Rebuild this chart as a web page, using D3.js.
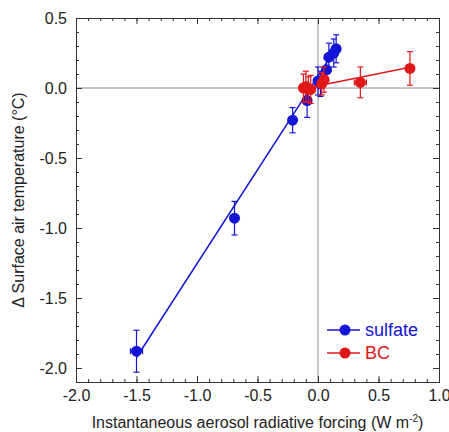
<!DOCTYPE html>
<html>
<head>
<meta charset="utf-8">
<script src="https://cdn.jsdelivr.net/npm/d3@7"></script>
<style>
  body { margin: 0; background: #fff; }
  text { font-family: "Liberation Sans", Arial, Helvetica, sans-serif; }
</style>
</head>
<body>
<svg id="chart" width="449" height="432"></svg>
<script>
// sulfate runs
var sulfateX    = [-1.50, -0.69, -0.21, -0.09, 0.00, 0.02, 0.07, 0.09, 0.13, 0.15];
var sulfateY    = [-1.88, -0.93, -0.23, -0.09, 0.05, 0.03, 0.13, 0.22, 0.25, 0.28];
var sulfateXErr = [0.05, 0.01, 0.01, 0.01, 0.01, 0.01, 0.01, 0.01, 0.01, 0.01];
var sulfateYErr = [0.15, 0.12, 0.09, 0.12, 0.10, 0.09, 0.08, 0.10, 0.10, 0.10];
// BC runs
var bcX    = [-0.12, -0.10, -0.08, -0.06, 0.03, 0.05, 0.35, 0.76];
var bcY    = [0.00, 0.01, -0.01, -0.01, 0.03, 0.06, 0.04, 0.14];
var bcXErr = [0.01, 0.01, 0.01, 0.01, 0.01, 0.01, 0.05, 0.01];
var bcYErr = [0.10, 0.11, 0.09, 0.10, 0.08, 0.09, 0.11, 0.12];
// fitted lines [slope, intercept]
var sulfateFit = [1.34, 0.085];
var bcFit = [0.175, 0.015];

var xTicks = [-2.0, -1.5, -1.0, -0.5, 0.0, 0.5, 1.0];
var yTicks = [-2.0, -1.5, -1.0, -0.5, 0.0, 0.5];

var blue = "#1414d6", red = "#e01818";

var svg = d3.select("#chart"),
    margin = {top: 18, right: 10, bottom: 50, left: 76},
    width = +svg.attr("width") - margin.left - margin.right,
    height = +svg.attr("height") - margin.top - margin.bottom,
    g = svg.append("g").attr("transform", "translate(" + margin.left + "," + margin.top + ")");

var x = d3.scaleLinear().domain([-2.0, 1.0]).range([0, width]);
var y = d3.scaleLinear().domain([-2.1, 0.5]).range([height, 0]);

var minorX = d3.range(-20, 11).map(function(d) { return d / 10; });
var minorY = d3.range(-21, 6).map(function(d) { return d / 10; });

// plain hyphen like the original figure
var fmt = function(d) { return d.toFixed(1); };

// zero lines
g.append("line")
    .attr("x1", x(0)).attr("x2", x(0)).attr("y1", 0).attr("y2", height)
    .attr("stroke", "#8a8a8a").attr("stroke-width", 1);
g.append("line")
    .attr("x1", 0).attr("x2", width).attr("y1", y(0)).attr("y2", y(0))
    .attr("stroke", "#8a8a8a").attr("stroke-width", 1);

function styleAxis(sel) {
  sel.selectAll("path, line").attr("stroke", "#333");
  sel.selectAll("text").attr("fill", "#222").style("font-size", "16px");
}

// minor ticks on all four sides
g.append("g").attr("transform", "translate(0," + height + ")")
    .call(d3.axisBottom(x).tickValues(minorX).tickSize(-3).tickFormat("")).call(styleAxis);
g.append("g")
    .call(d3.axisTop(x).tickValues(minorX).tickSize(-3).tickFormat("")).call(styleAxis);
g.append("g")
    .call(d3.axisLeft(y).tickValues(minorY).tickSize(-3).tickFormat("")).call(styleAxis);
g.append("g").attr("transform", "translate(" + width + ",0)")
    .call(d3.axisRight(y).tickValues(minorY).tickSize(-3).tickFormat("")).call(styleAxis);

// major ticks
g.append("g").attr("transform", "translate(0," + height + ")")
    .call(d3.axisBottom(x).tickValues(xTicks).tickSize(-6).tickPadding(8).tickFormat(fmt))
    .call(styleAxis);
g.append("g")
    .call(d3.axisTop(x).tickValues(xTicks).tickSize(-6).tickFormat("")).call(styleAxis);
g.append("g")
    .call(d3.axisLeft(y).tickValues(yTicks).tickSize(-6).tickPadding(9).tickFormat(fmt))
    .call(styleAxis);
g.append("g").attr("transform", "translate(" + width + ",0)")
    .call(d3.axisRight(y).tickValues(yTicks).tickSize(-6).tickFormat("")).call(styleAxis);

// axis titles
var xt = svg.append("text")
    .attr("x", margin.left + width / 2).attr("y", 428)
    .attr("text-anchor", "middle").attr("fill", "#222").style("font-size", "16px");
xt.append("tspan").text("Instantaneous aerosol radiative forcing (W m");
xt.append("tspan").attr("dy", -6).style("font-size", "10px").text("-2");
xt.append("tspan").attr("dy", 6).text(")");

svg.append("text")
    .attr("transform", "translate(24," + (margin.top + height / 2) + ") rotate(-90)")
    .attr("text-anchor", "middle").attr("fill", "#222").style("font-size", "16px")
    .text("\u0394 Surface air temperature (\u00b0C)");

function drawSeries(xs, ys, xe, ye, fit, color) {
  var data = xs.map(function(d, i) { return {x: d, y: ys[i], xe: xe[i], ye: ye[i]}; });
  var x0 = d3.min(xs), x1 = d3.max(xs);
  g.append("line")
      .attr("x1", x(x0)).attr("y1", y(fit[0] * x0 + fit[1]))
      .attr("x2", x(x1)).attr("y2", y(fit[0] * x1 + fit[1]))
      .attr("stroke", color).attr("stroke-width", 1.5);

  var eb = g.append("g").attr("stroke", color).attr("stroke-width", 1.2);
  data.forEach(function(d) {
    eb.append("line").attr("x1", x(d.x)).attr("x2", x(d.x))
        .attr("y1", y(d.y - d.ye)).attr("y2", y(d.y + d.ye));
    eb.append("line").attr("x1", x(d.x) - 3).attr("x2", x(d.x) + 3)
        .attr("y1", y(d.y - d.ye)).attr("y2", y(d.y - d.ye));
    eb.append("line").attr("x1", x(d.x) - 3).attr("x2", x(d.x) + 3)
        .attr("y1", y(d.y + d.ye)).attr("y2", y(d.y + d.ye));
    eb.append("line").attr("x1", x(d.x - d.xe)).attr("x2", x(d.x + d.xe))
        .attr("y1", y(d.y)).attr("y2", y(d.y));
    eb.append("line").attr("x1", x(d.x - d.xe)).attr("x2", x(d.x - d.xe))
        .attr("y1", y(d.y) - 3).attr("y2", y(d.y) + 3);
    eb.append("line").attr("x1", x(d.x + d.xe)).attr("x2", x(d.x + d.xe))
        .attr("y1", y(d.y) - 3).attr("y2", y(d.y) + 3);
  });

  g.append("g").selectAll("circle")
      .data(data)
    .enter().append("circle")
      .attr("cx", function(d) { return x(d.x); })
      .attr("cy", function(d) { return y(d.y); })
      .attr("r", 5.5)
      .attr("fill", color);
}

drawSeries(sulfateX, sulfateY, sulfateXErr, sulfateYErr, sulfateFit, blue);
drawSeries(bcX, bcY, bcXErr, bcYErr, bcFit, red);

// legend
var legend = [{name: "sulfate", color: blue}, {name: "BC", color: red}];
var lg = svg.append("g").selectAll("g")
    .data(legend)
  .enter().append("g")
    .attr("transform", function(d, i) { return "translate(327," + (330 + i * 23) + ")"; });
lg.append("line").attr("x1", 0).attr("x2", 33).attr("y1", 0).attr("y2", 0)
    .attr("stroke", function(d) { return d.color; }).attr("stroke-width", 1.5);
lg.append("circle").attr("cx", 18).attr("cy", 0).attr("r", 5.5)
    .attr("fill", function(d) { return d.color; });
lg.append("text").attr("x", 38).attr("y", 6)
    .attr("fill", function(d) { return d.color; })
    .style("font-size", "18px")
    .text(function(d) { return d.name; });
</script>
</body>
</html>
